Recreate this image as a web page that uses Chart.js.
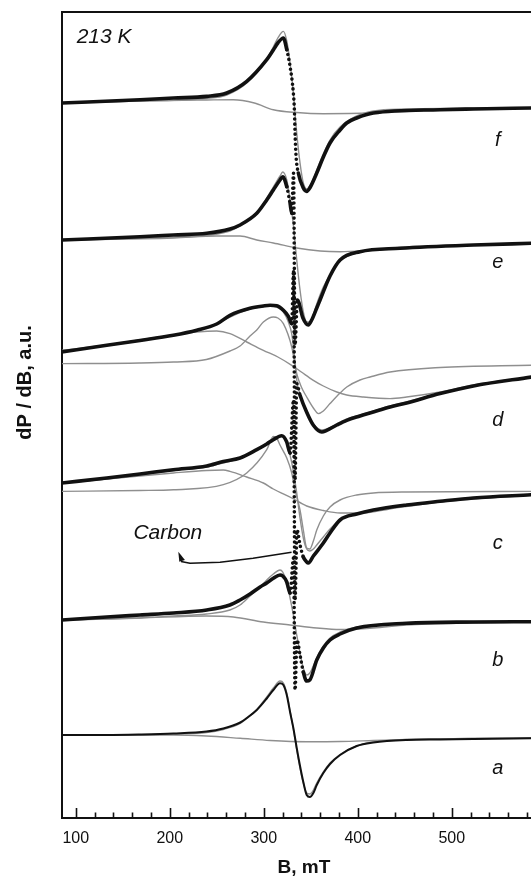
<!DOCTYPE html>
<html>
<head>
<meta charset="utf-8">
<script src="https://cdn.jsdelivr.net/npm/chart.js@4/dist/chart.umd.min.js"></script>
<style>
  html, body { margin: 0; padding: 0; background: #fff; }
</style>
</head>
<body>
<canvas id="epr" width="531" height="880"></canvas>
<script>
// EPR spectra at 213 K, stacked a..f (B in mT, intensity in a.u. relative to each baseline)

// vertical offsets of the stacked spectra
const offsets = { a: 83, b: 198, c: 335, d: 466, e: 578, f: 715 }

// x axis tick values
const majorTicks = [100, 200, 300, 400, 500]
const minorTicks = [120, 140, 160, 180, 220, 240, 260, 280, 320, 340, 360, 380, 420, 440, 460, 480, 520, 540, 560, 580]

// spectrum a
const aExp = [[85, 0], [133, 0], [168, 0.5], [204, 1.5], [239, 3.5], [257, 6.5], [275, 12.5], [282, 17], [292.6, 25], [303.2, 36.5], [310.2, 45], [317.3, 51.7], [320.9, 50], [324.5, 40], [328, 23], [331.5, 7], [335.1, -13], [338.6, -31], [342.1, -47], [345.7, -60], [349, -62], [352.8, -58], [356.4, -50], [363.4, -38], [370.5, -29], [381.2, -20], [398.9, -11], [416.6, -7.5], [452, -5], [487.6, -4.5], [523, -4], [585, -3.3]]
const aFit = [[85, 0], [168, 0], [204, 1], [239, 2.5], [257, 5.5], [275, 11.5], [282, 16.5], [292.6, 25.5], [303.2, 38], [310.2, 47], [317.3, 54], [320.9, 52], [324.5, 42], [328, 24], [331.5, 6], [335.1, -15], [338.6, -33], [342.1, -48], [345.7, -58], [349, -59], [352.8, -55], [356.4, -48], [363.4, -37], [370.5, -28], [381.2, -19.5], [398.9, -11], [416.6, -7], [452, -4.5], [523, -3.5], [585, -3]]
const aComp = [[85, 0], [204, 0], [239, -1], [275, -3.3], [307, -5.5], [345.7, -6.7], [381.2, -6.5], [416.6, -5.5], [452, -4.5], [523, -3.5], [585, -3]]

// spectrum b
const bExp = [[85, 0], [133, 3], [168.4, 5], [204, 7], [239.4, 10], [264, 15], [274.8, 20], [285.4, 26], [296.1, 33], [303.2, 37], [310.2, 41.7], [317.3, 45], [320.2, 44], [324.5, 38], [326.2, 32], [328, 27], [331.7, 62], [333.3, -70], [335.4, -20], [338.6, -35], [342.1, -52], [345.7, -61], [349, -60], [356.4, -40], [363.4, -28], [370.5, -20], [381.2, -14], [398.9, -8], [452, -3.3], [523, -2], [585, -1.7]]
const bFit = [[85, 0], [168, 2], [204, 4], [239, 6], [264, 10], [274.8, 15], [285.4, 24], [296.1, 33], [303.2, 40], [310.2, 46], [317.3, 50], [320.2, 48], [324.5, 38], [328, 22], [331.5, 5], [335.1, -15], [338.6, -33], [342.1, -48], [345.7, -55], [349, -53], [356.4, -38], [363.4, -26], [370.5, -18], [381.2, -12], [398.9, -7], [452, -3], [523, -2], [585, -1.7]]
const bComp = [[85, 0], [168, 2], [239, 4], [267.7, 3], [299.6, -2], [328, -5], [356.4, -8], [381.2, -9.5], [416.6, -8], [452, -5], [523, -3], [585, -2]]

// spectrum c
const cExp = [[85, 0], [133, 5], [168.4, 9], [203.8, 13.3], [239.4, 17], [257, 21.6], [274.8, 25], [292.6, 33.3], [303.2, 39], [310.2, 43.3], [319.1, 47.3], [324.5, 41], [328, 30], [331.7, 83], [333.3, -117], [335.4, -47], [338.6, -62], [342.1, -74], [345.7, -79], [347.4, -80], [352.8, -73], [363.4, -60], [370.5, -50], [381.2, -37], [398.9, -31], [416.6, -27], [452, -22], [487.6, -18.3], [523, -15], [585, -11.7]]
const cFit = [[85, 0], [133, 4], [168, 8], [204, 12.5], [239, 16], [257, 20], [274.8, 25], [292.6, 33], [303.2, 40], [310.2, 45], [319.1, 47], [324.5, 40], [328, 28], [331.5, 12], [335.1, -10], [338.6, -35], [342.1, -55], [345.7, -66], [349, -68], [352.8, -66], [356.4, -62], [363.4, -54], [370.5, -46], [381.2, -37], [398.9, -31], [416.6, -27], [452, -22], [487.6, -18], [523, -15], [585, -11.7]]
const cNarrow = [[85, -8.4], [168, -7.5], [204, -6.7], [257, -1.7], [281.9, 10], [303.2, 33.3], [310.2, 46.6], [313.8, 45], [317.3, 38], [324.5, 25], [329.8, 10], [333.3, -7], [338.6, -27], [342.1, -47], [345.7, -65], [349, -66], [352.8, -58], [356.4, -47], [363.4, -33], [370.5, -24], [381.2, -17], [398.9, -12], [416.6, -10], [452, -9], [585, -8.4]]
const cBroad = [[85, 0], [133, 4], [168, 7], [204, 10], [239, 12.5], [257, 13], [264.1, 11.6], [281.9, 6], [299.6, 0], [310.2, -6], [329.8, -15], [345.7, -23], [363.4, -27.5], [381.2, -30], [406, -30], [434, -26], [487.6, -19], [585, -12]]

// spectrum d
const dExp = [[85, 0], [133, 6.7], [168.4, 11.5], [203.8, 16.7], [228.7, 21.7], [250, 28], [264.1, 36.7], [285.4, 43.7], [299.6, 46], [306.7, 46.7], [313.8, 46.2], [320.9, 41.7], [326.2, 35.7], [329.8, 28.4], [331.7, 81.7], [333.3, -128], [335.1, -31.6], [338.6, -43.3], [345.7, -60.3], [352.8, -73.3], [361.7, -80], [367, -78.3], [377.7, -73], [388.3, -68.3], [402.4, -64], [416.6, -60], [434.4, -55], [452, -51], [487.6, -41.6], [523, -34], [585, -25]]
const dFit = [[85, 0], [133, 6.5], [168, 11.5], [204, 16.5], [228.7, 21.7], [250, 28], [264.1, 35], [285.4, 43], [299.6, 45.5], [306.7, 46], [313.8, 45], [320.9, 40], [326.2, 30], [329.8, 18], [333.3, -10], [335.1, -28], [338.6, -42], [345.7, -59], [352.8, -72], [361.7, -78], [367, -77], [377.7, -72], [388.3, -67], [402.4, -63], [416.6, -59], [434.4, -54], [452, -50], [487.6, -41], [523, -34], [585, -25]]
const dNarrow = [[85, -11.6], [168, -11], [204, -10], [239, -7.5], [264.1, 1], [274.8, 6], [285.4, 16], [292.6, 22], [299.6, 30], [310.2, 35], [315, 34], [320.9, 28.4], [329.8, 5], [335.1, -21.6], [340, -35], [345.7, -45], [352.8, -56], [358.1, -61.6], [363.4, -59], [370.5, -51.6], [381.2, -41], [388.3, -35], [402.4, -28], [413.1, -25], [434.4, -20], [487.6, -15.5], [585, -13.3]]
const dBroad = [[85, 1.7], [133, 7], [168, 12], [204, 17], [228.7, 20], [250, 21], [264.1, 18.4], [281.9, 10], [299.6, 1.7], [315, -5], [329.8, -13.3], [340, -20], [352.8, -28.3], [363.4, -34], [377.7, -40], [388.3, -43], [406, -45], [434.4, -46.6], [452, -45], [487.6, -40], [523, -33], [585, -25]]

// spectrum e
const eExp = [[85, 0], [168.4, 3.3], [204, 5], [239.4, 6.7], [264, 11], [274.8, 15], [292.6, 26.7], [303.2, 40], [310.2, 50], [317.3, 60], [320.2, 63.3], [324.5, 53.3], [328, 36.7], [329.8, 26.7], [331.7, 66.7], [333.3, -105], [335.8, -60], [341.7, -78], [347.4, -85], [351, -80], [356.4, -68], [359.9, -60], [370.5, -36], [381.2, -20], [402.4, -11.7], [445, -8.3], [523, -5], [585, -3.3]]
const eFit = [[85, 0], [168, 2], [239, 4.5], [264, 9], [274.8, 14], [292.6, 27], [303.2, 42], [310.2, 53], [317.3, 64], [320.2, 68], [324.5, 60], [328, 40], [331.5, 15], [335.1, -20], [338.6, -50], [342.1, -72], [345.7, -82], [349, -82], [352.8, -75], [356.4, -64], [363.4, -47], [370.5, -35], [381.2, -21], [398.9, -13], [416.6, -10], [452, -7], [523, -5], [585, -3.3]]
const eComp = [[85, 0], [204, 2], [250, 4], [274.8, 4], [292.6, 0], [310.2, -3], [335.1, -8], [360, -11], [381.2, -11.7], [416.6, -10], [452, -8], [523, -5], [585, -3.3]]

// spectrum f
const fExp = [[85, 0], [168.4, 3.3], [204, 5], [239.4, 6.6], [260.6, 10], [281.9, 21.6], [303.2, 43.3], [310.2, 53], [315, 60], [320.9, 65], [324.5, 53.3], [328, 36.6], [331.5, 10], [332.6, -6.7], [333.3, -29.7], [334.4, -53.4], [336.8, -70], [342.1, -85], [345.7, -88.4], [349, -85], [356.4, -70], [363.4, -54], [370.5, -40], [381.2, -27], [388.3, -20], [398.9, -15], [416.6, -10], [487.6, -6.7], [523, -6], [585, -5]]
const fFit = [[85, 0], [168, 2], [239, 4.5], [260.6, 8], [281.9, 20], [303.2, 44], [310.2, 56], [315, 65], [320.9, 71.6], [324.5, 62], [328, 40], [331.5, 10], [335.1, -30], [338.6, -60], [342.1, -80], [345.7, -86], [349, -83], [352.8, -76], [356.4, -67], [363.4, -51], [370.5, -37], [381.2, -24], [398.9, -13], [416.6, -8], [452, -6], [523, -5], [585, -4.7]]
const fComp = [[85, 0], [168, 2], [239, 3], [267.7, 3.3], [290, 0], [310.2, -6.7], [335, -9.5], [363.4, -10.7], [416.6, -10], [487.6, -7], [585, -4.7]]

// annotations (B, absolute a.u.)
const curveLetters = ['f', 'e', 'd', 'c', 'b', 'a']
const letterY = [678, 556, 398, 275, 158, 50]
const letterB = 549
const arrowPath = [[212, 256.5], [221.6, 254.7], [253.5, 255.7], [288.6, 259.7], [329.6, 265.7]]
const arrowHead = [[209.1, 266.3], [210.2, 256.3], [216.2, 258]]

const spectra = [
  { key: 'f', exp: fExp, fits: [fFit, fComp] },
  { key: 'e', exp: eExp, fits: [eFit, eComp] },
  { key: 'd', exp: dExp, fits: [dFit, dNarrow, dBroad] },
  { key: 'c', exp: cExp, fits: [cFit, cNarrow, cBroad] },
  { key: 'b', exp: bExp, fits: [bFit, bComp] },
  { key: 'a', exp: aExp, fits: [aFit, aComp], line: true }
]

const FONT = '"Liberation Sans", Arial, Helvetica, sans-serif'
const INK = '#111'
const GREY = '#8f8f8f'

// shift a spectrum onto its baseline
function toPoints(pairs, off) {
  return pairs.map(([b, v]) => ({ x: b, y: v + off }))
}

// steep parts of the recorded trace show as separate dots
function isSteep(ctx) {
  const dx = Math.abs(ctx.p1.x - ctx.p0.x)
  const dy = Math.abs(ctx.p1.y - ctx.p0.y)
  return dy > 10 && dy > 3.5 * dx
}

const datasets = []
spectra.forEach((s) => {
  const off = offsets[s.key]
  datasets.push({
    data: toPoints(s.exp, off),
    borderColor: INK,
    borderWidth: s.line ? 2 : 3.6,
    borderCapStyle: 'round',
    borderJoinStyle: 'round',
    pointRadius: 0,
    cubicInterpolationMode: 'monotone',
    order: 0,
    segment: s.line ? {} : { borderDash: ctx => (isSteep(ctx) ? [0, 5] : undefined) }
  })
  s.fits.forEach((f) => {
    datasets.push({
      data: toPoints(f, off),
      borderColor: GREY,
      borderWidth: 1.4,
      pointRadius: 0,
      cubicInterpolationMode: 'monotone',
      order: 1
    })
  })
})

// frame, inward ticks, texts and the carbon pointer
const decor = {
  id: 'decor',
  afterDraw(chart) {
    const { ctx, chartArea: area, scales: { x, y } } = chart
    ctx.save()
    ctx.strokeStyle = INK
    ctx.lineCap = 'butt'

    // top edge of the frame
    ctx.lineWidth = 2
    ctx.beginPath()
    ctx.moveTo(area.left - 1, area.top)
    ctx.lineTo(area.right, area.top)
    ctx.stroke()

    // ticks pointing into the plot
    ctx.lineWidth = 1.6
    const tick = (v, len) => {
      const px = Math.round(x.getPixelForValue(v)) + 0.5
      ctx.beginPath()
      ctx.moveTo(px, area.bottom)
      ctx.lineTo(px, area.bottom - len)
      ctx.stroke()
    }
    majorTicks.forEach(v => tick(v, 10))
    minorTicks.forEach(v => tick(v, 5.5))

    // axis titles
    ctx.fillStyle = INK
    ctx.font = 'bold 19px ' + FONT
    ctx.textAlign = 'center'
    ctx.textBaseline = 'middle'
    ctx.fillText('B, mT', x.getPixelForValue(342.8), 868)
    ctx.font = 'bold 20px ' + FONT
    ctx.save()
    ctx.translate(25, y.getPixelForValue(435.5))
    ctx.rotate(-Math.PI / 2)
    ctx.fillText('dP / dB, a.u.', 0, 0)
    ctx.restore()

    // spectrum letters
    ctx.font = 'italic 20px ' + FONT
    curveLetters.forEach((t, i) => {
      ctx.fillText(t, x.getPixelForValue(letterB), y.getPixelForValue(letterY[i]))
    })

    // temperature and carbon label
    ctx.font = 'italic 21px ' + FONT
    ctx.textAlign = 'left'
    ctx.fillText('213 K', x.getPixelForValue(101), y.getPixelForValue(780.5))
    ctx.textAlign = 'center'
    ctx.fillText('Carbon', x.getPixelForValue(198), y.getPixelForValue(284.5))

    // pointer line
    ctx.lineWidth = 1.5
    ctx.lineJoin = 'round'
    ctx.beginPath()
    arrowPath.forEach(([b, v], i) => {
      const px = x.getPixelForValue(b)
      const py = y.getPixelForValue(v)
      if (i === 0) ctx.moveTo(px, py)
      else ctx.lineTo(px, py)
    })
    ctx.stroke()
    ctx.beginPath()
    arrowHead.forEach(([b, v], i) => {
      const px = x.getPixelForValue(b)
      const py = y.getPixelForValue(v)
      if (i === 0) ctx.moveTo(px, py)
      else ctx.lineTo(px, py)
    })
    ctx.closePath()
    ctx.fill()

    ctx.restore()
  }
}

new Chart(document.getElementById('epr'), {
  type: 'line',
  data: { datasets },
  plugins: [decor],
  options: {
    responsive: false,
    animation: false,
    events: [],
    layout: { padding: { top: 12, right: 0, left: 0, bottom: 0 } },
    plugins: { legend: { display: false }, tooltip: { enabled: false } },
    scales: {
      x: {
        type: 'linear',
        min: 85.4,
        max: 584.3,
        afterFit: (s) => { s.height = 62 },
        afterBuildTicks: (s) => { s.ticks = majorTicks.map(v => ({ value: v })) },
        grid: { display: false, drawTicks: false },
        border: { display: true, width: 2, color: INK },
        ticks: {
          autoSkip: false,
          maxRotation: 0,
          padding: 11,
          color: INK,
          font: { family: FONT, size: 16 }
        }
      },
      y: {
        type: 'linear',
        min: 0,
        max: 806,
        afterFit: (s) => { s.width = 62 },
        grid: { display: false },
        border: { display: true, width: 2, color: INK },
        ticks: { display: false }
      }
    }
  }
})
</script>
</body>
</html>
